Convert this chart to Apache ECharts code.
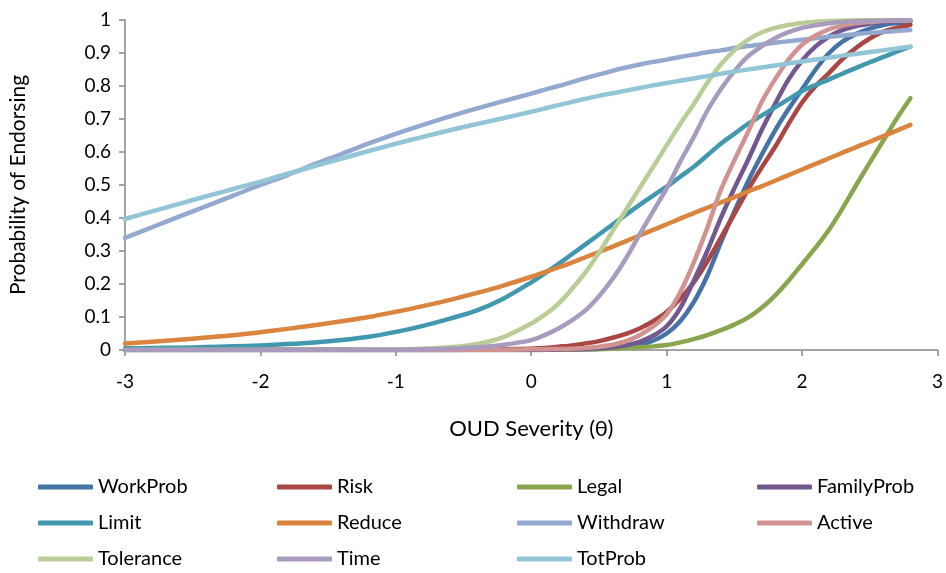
<!DOCTYPE html>
<html>
<head>
<meta charset="utf-8">
<script src="https://cdn.jsdelivr.net/npm/echarts@6/dist/echarts.min.js"></script>
<style>
  html, body { margin: 0; padding: 0; background: #fff; }
  #chart { width: 946px; height: 573px; }
</style>
</head>
<body>
<div id="chart"></div>
<script>
// theta grid: every 0.2 on the flat left side, every 0.1 where the curves rise
const theta = [-3, -2.8, -2.6, -2.4, -2.2, -2, -1.8, -1.6, -1.4, -1.2, -1, -0.8, -0.6, -0.4, -0.2,
  0, 0.1, 0.2, 0.3, 0.4, 0.5, 0.6, 0.7, 0.8, 0.9, 1, 1.1, 1.2, 1.3, 1.4,
  1.5, 1.6, 1.7, 1.8, 1.9, 2, 2.1, 2.2, 2.3, 2.4, 2.5, 2.6, 2.7, 2.8]

const workProb = [0, 0, 0, 0, 0, 0, 0, 0, 0, 0, 0, 0, 0, 0, 0,
  0, 0.0005, 0.001, 0.0015, 0.002, 0.003, 0.005, 0.009, 0.015, 0.028, 0.05, 0.087, 0.145, 0.225, 0.325,
  0.42, 0.51, 0.59, 0.665, 0.73, 0.79, 0.85, 0.9, 0.935, 0.958, 0.974, 0.985, 0.991, 0.995]
const risk = [0, 0, 0, 0, 0, 0, 0, 0, 0, 0, 0, 0, 0, 0.001, 0.002,
  0.004, 0.006, 0.01, 0.014, 0.02, 0.027, 0.037, 0.049, 0.065, 0.087, 0.115, 0.155, 0.205, 0.268, 0.34,
  0.412, 0.485, 0.552, 0.615, 0.685, 0.75, 0.8, 0.84, 0.882, 0.916, 0.944, 0.965, 0.977, 0.985]
const legal = [0, 0, 0, 0, 0, 0, 0, 0, 0, 0, 0, 0, 0, 0, 0,
  0, 0.0005, 0.001, 0.0015, 0.002, 0.003, 0.004, 0.006, 0.008, 0.011, 0.015, 0.023, 0.033, 0.045, 0.06,
  0.077, 0.098, 0.127, 0.165, 0.21, 0.26, 0.31, 0.365, 0.43, 0.5, 0.568, 0.635, 0.702, 0.763]
const familyProb = [0, 0, 0, 0, 0, 0, 0, 0, 0, 0, 0, 0, 0, 0, 0,
  0, 0.0005, 0.001, 0.002, 0.003, 0.005, 0.008, 0.014, 0.025, 0.043, 0.072, 0.127, 0.21, 0.3, 0.4,
  0.49, 0.575, 0.665, 0.745, 0.82, 0.877, 0.92, 0.95, 0.97, 0.982, 0.989, 0.994, 0.996, 0.998]
const limit = [0.005, 0.006, 0.007, 0.009, 0.011, 0.014, 0.018, 0.023, 0.03, 0.04, 0.055, 0.073, 0.095, 0.12, 0.157,
  0.205, 0.232, 0.26, 0.29, 0.32, 0.35, 0.38, 0.41, 0.44, 0.468, 0.495, 0.525, 0.555, 0.59, 0.625,
  0.655, 0.685, 0.71, 0.735, 0.76, 0.785, 0.803, 0.82, 0.838, 0.855, 0.872, 0.888, 0.904, 0.919]
const reduce = [0.02, 0.025, 0.031, 0.038, 0.045, 0.054, 0.064, 0.075, 0.087, 0.1, 0.116, 0.133, 0.152, 0.173, 0.196,
  0.222, 0.236, 0.25, 0.265, 0.281, 0.297, 0.313, 0.33, 0.347, 0.364, 0.381, 0.398, 0.415, 0.431, 0.447,
  0.463, 0.48, 0.496, 0.513, 0.53, 0.547, 0.564, 0.581, 0.598, 0.615, 0.631, 0.648, 0.665, 0.682]
const withdraw = [0.34, 0.372, 0.404, 0.436, 0.468, 0.5, 0.53, 0.563, 0.594, 0.626, 0.655, 0.682, 0.708, 0.732, 0.755,
  0.777, 0.789, 0.8, 0.812, 0.824, 0.835, 0.846, 0.856, 0.865, 0.873, 0.88, 0.888, 0.895, 0.902, 0.908,
  0.915, 0.921, 0.926, 0.931, 0.936, 0.94, 0.945, 0.949, 0.953, 0.957, 0.961, 0.964, 0.967, 0.97]
const active = [0, 0, 0, 0, 0, 0, 0, 0, 0, 0, 0, 0, 0, 0.001, 0.001,
  0.002, 0.0025, 0.003, 0.004, 0.006, 0.01, 0.016, 0.027, 0.045, 0.071, 0.108, 0.175, 0.265, 0.37, 0.485,
  0.575, 0.66, 0.75, 0.82, 0.88, 0.925, 0.953, 0.972, 0.983, 0.99, 0.994, 0.997, 0.998, 0.999]
const tolerance = [0, 0, 0, 0, 0, 0, 0, 0, 0, 0.001, 0.002, 0.004, 0.008, 0.018, 0.04,
  0.08, 0.107, 0.14, 0.185, 0.235, 0.295, 0.36, 0.425, 0.49, 0.555, 0.62, 0.685, 0.745, 0.81, 0.865,
  0.908, 0.94, 0.962, 0.976, 0.985, 0.991, 0.995, 0.997, 0.998, 0.999, 1, 1, 1, 1]
const time = [0, 0, 0, 0, 0, 0, 0, 0, 0, 0, 0.001, 0.002, 0.004, 0.008, 0.016,
  0.03, 0.045, 0.065, 0.09, 0.12, 0.163, 0.215, 0.278, 0.35, 0.42, 0.49, 0.57, 0.645, 0.725, 0.79,
  0.845, 0.89, 0.92, 0.945, 0.963, 0.976, 0.984, 0.99, 0.994, 0.996, 0.997, 0.998, 0.999, 0.999]
const totProb = [0.397, 0.42, 0.443, 0.466, 0.488, 0.51, 0.534, 0.557, 0.58, 0.603, 0.625, 0.646, 0.666, 0.685, 0.703,
  0.722, 0.732, 0.742, 0.752, 0.761, 0.77, 0.778, 0.786, 0.794, 0.802, 0.809, 0.816, 0.823, 0.83, 0.837,
  0.844, 0.85, 0.856, 0.862, 0.868, 0.874, 0.88, 0.886, 0.892, 0.897, 0.903, 0.908, 0.914, 0.919]

const names = ['WorkProb', 'Risk', 'Legal', 'FamilyProb', 'Limit', 'Reduce',
  'Withdraw', 'Active', 'Tolerance', 'Time', 'TotProb']
const values = [workProb, risk, legal, familyProb, limit, reduce,
  withdraw, active, tolerance, time, totProb]
const colors = ['#4572A7', '#AA4643', '#89A54E', '#71588F', '#4198AF', '#DB843D',
  '#93A9CF', '#D19392', '#B9CD96', '#A99BBD', '#92C5D6']

const font = 'Lato'
const axisColor = '#868686'

function legendColumn(left, items) {
  return {
    orient: 'vertical',
    left: left,
    top: 477,
    padding: 0,
    height: 96,
    icon: 'roundRect',
    itemWidth: 55,
    itemHeight: 5,
    itemGap: 16,
    data: items,
    textStyle: { fontFamily: font, fontSize: 20, color: '#000', lineHeight: 20 },
    selectedMode: false,
  }
}

const chart = echarts.init(document.getElementById('chart'))
chart.setOption({
  animation: false,
  color: colors,
  grid: { left: 121, right: 8, top: 20, bottom: 223, containLabel: false },
  legend: [
    legendColumn(38, ['WorkProb', 'Limit', 'Tolerance']),
    legendColumn(277, ['Risk', 'Reduce', 'Time']),
    legendColumn(517, ['Legal', 'Withdraw', 'TotProb']),
    legendColumn(757, ['FamilyProb', 'Active']),
  ],
  xAxis: {
    type: 'value',
    min: -3,
    max: 3,
    interval: 1,
    name: 'OUD Severity (θ)',
    nameLocation: 'middle',
    nameGap: 68,
    nameTextStyle: { fontFamily: font, fontSize: 22, color: '#000' },
    axisLine: { onZero: false, lineStyle: { color: axisColor, width: 1.5 } },
    axisTick: { length: 6, lineStyle: { color: axisColor, width: 1.5 } },
    axisLabel: { fontFamily: font, fontSize: 19, color: '#000', margin: 22 },
    splitLine: { show: false },
  },
  yAxis: {
    type: 'value',
    min: 0,
    max: 1,
    interval: 0.1,
    name: 'Probability of Endorsing',
    nameLocation: 'middle',
    nameGap: 96,
    nameRotate: 90,
    nameTextStyle: { fontFamily: font, fontSize: 21, color: '#000' },
    axisLine: { show: true, onZero: false, lineStyle: { color: axisColor, width: 1.5 } },
    axisTick: { show: true, length: 6, lineStyle: { color: axisColor, width: 1.5 } },
    axisLabel: { fontFamily: font, fontSize: 19, color: '#000', margin: 14 },
    splitLine: { show: false },
  },
  series: names.map((name, i) => ({
    name: name,
    type: 'line',
    data: theta.map((t, j) => [t, values[i][j]]),
    smooth: 0.3,
    showSymbol: false,
    symbol: 'none',
    lineStyle: { width: 4.5, cap: 'round', join: 'round' },
    emphasis: { disabled: true },
  })),
})
</script>
</body>
</html>
